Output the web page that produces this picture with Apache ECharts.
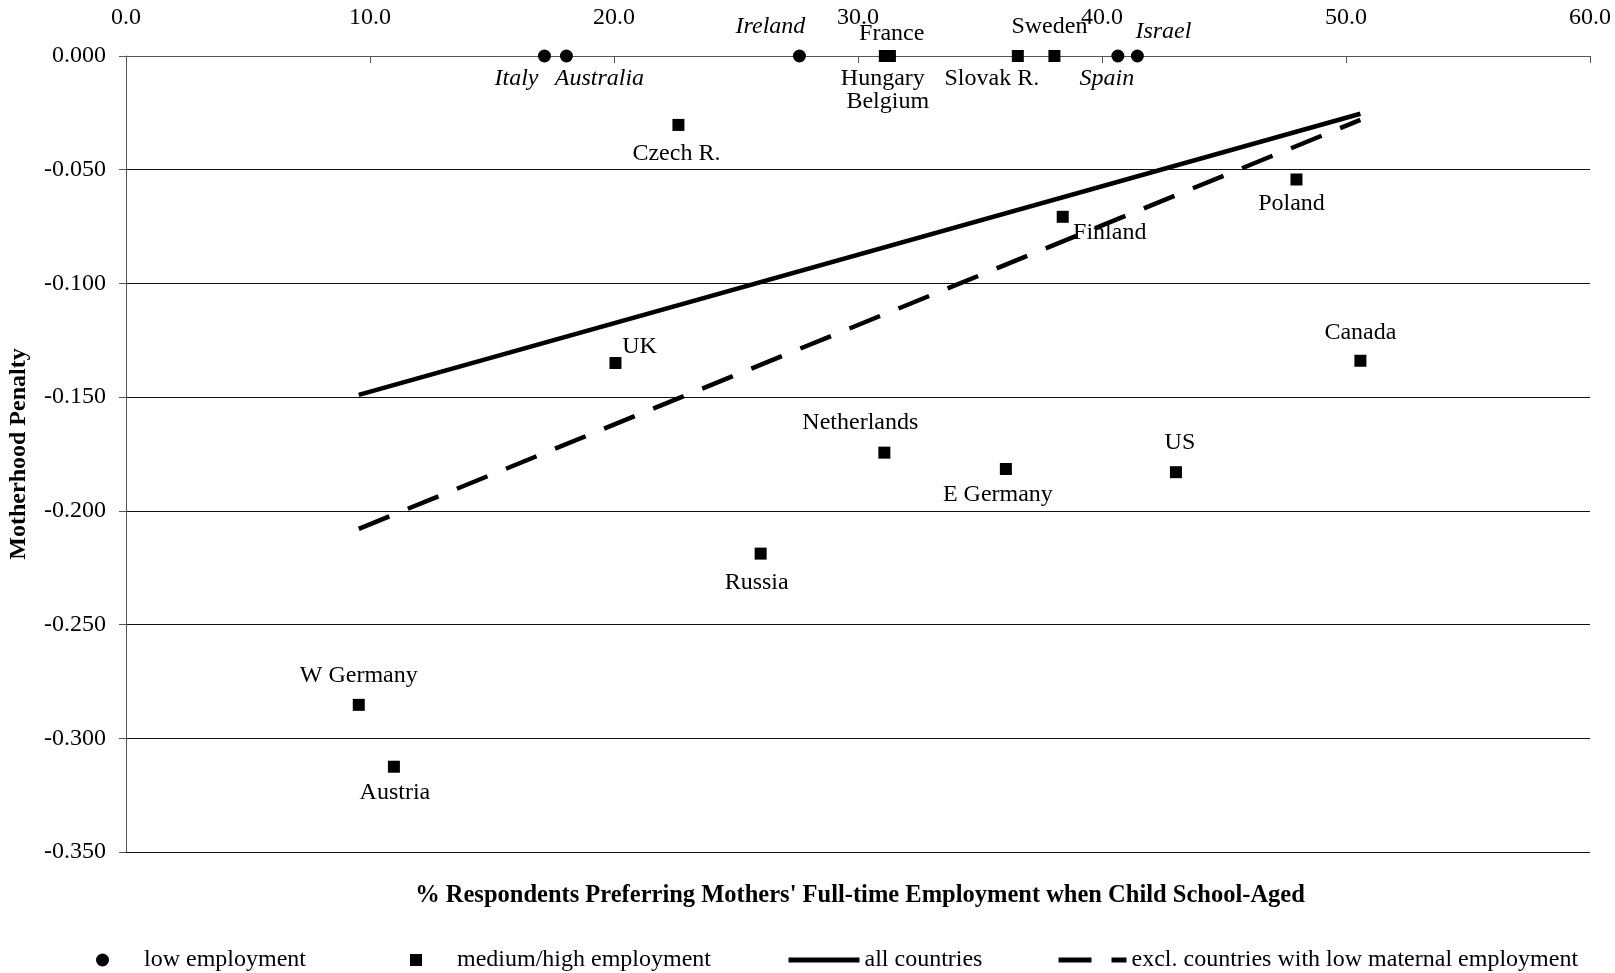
<!DOCTYPE html>
<html>
<head>
<meta charset="utf-8">
<script src="https://cdn.jsdelivr.net/npm/echarts@6/dist/echarts.min.js"></script>
<style>
html,body{margin:0;padding:0;background:#fff;}
#chart{width:1615px;height:973px;}
</style>
</head>
<body>
<div id="chart"></div>
<script>
// ---- data ----
const lowNames = ['Italy', 'Australia', 'Ireland', 'Spain', 'Israel'];
const lowX = [17.15, 18.05, 27.6, 40.65, 41.45];
const lowY = [0, 0, 0, 0, 0];

const medNames = ['Hungary', 'France', 'Belgium', 'Slovak R.', 'Sweden', 'Czech R.', 'Finland', 'Poland', 'Canada', 'UK', 'Netherlands', 'E Germany', 'US', 'Russia', 'W Germany', 'Austria'];
const medX = [31.1, 31.3, 31.3, 36.55, 38.05, 22.64, 38.39, 47.97, 50.59, 20.06, 31.08, 36.06, 43.03, 26.01, 9.54, 10.98];
const medY = [0, 0, 0, 0, 0, -0.0303, -0.0707, -0.0543, -0.134, -0.135, -0.1744, -0.1816, -0.183, -0.2188, -0.2853, -0.3125];

const allX = [9.54, 50.59];
const allY = [-0.149, -0.0254];
const exclX = [9.54, 50.59];
const exclY = [-0.2079, -0.0281];

const xTicks = [0, 10, 20, 30, 40, 50, 60];
const seriesNames = ['low employment', 'medium/high employment', 'all countries', 'excl. countries with low maternal employment'];
const xName = "% Respondents Preferring Mothers' Full-time Employment when Child School-Aged";
const yName = 'Motherhood Penalty';

// ---- label placement (style only) ----
const labelOffset = {
  'Italy': [-28, 23], 'Australia': [33, 23], 'Ireland': [-29, -29], 'Spain': [-11, 23], 'Israel': [26, -24],
  'Hungary': [-2, 23], 'France': [2, -22], 'Belgium': [-2, 46], 'Slovak R.': [-26, 23], 'Sweden': [-5, -29],
  'Czech R.': [-2, 29], 'Finland': [47, 16], 'Poland': [-5, 24], 'Canada': [0, -28], 'UK': [24, -16],
  'Netherlands': [-24, -30], 'E Germany': [-8, 26], 'US': [4, -29], 'Russia': [-4, 29], 'W Germany': [0, -29], 'Austria': [1, 26]
};

const FONT = 'Liberation Serif';

function pts(names, xs, ys, italic) {
  return names.map((n, i) => ({
    name: n,
    value: [xs[i], ys[i]],
    label: {
      show: true,
      formatter: n,
      position: 'inside',
      offset: labelOffset[n] || [0, 0],
      fontFamily: FONT,
      fontSize: 24,
      fontStyle: italic ? 'italic' : 'normal',
      color: '#000'
    }
  }));
}

const chart = echarts.init(document.getElementById('chart'), null, {renderer: 'canvas'});

const legendBase = {
  orient: 'horizontal',
  top: 948,
  padding: 0,
  textStyle: {fontFamily: FONT, fontSize: 24, color: '#000'},
  itemGap: 0,
  selectedMode: false
};

const option = {
  backgroundColor: '#fff',
  animation: false,
  textStyle: {fontFamily: FONT},
  title: {
    text: xName,
    left: 860,
    textAlign: 'center',
    top: 883,
    padding: 0,
    textStyle: {fontFamily: FONT, fontSize: 24.5, fontWeight: 'bold', color: '#000'}
  },
  legend: [
    Object.assign({}, legendBase, {left: 96, data: [{name: seriesNames[0], icon: 'circle'}], itemWidth: 13, itemHeight: 13,
      textStyle: {fontFamily: FONT, fontSize: 24, color: '#000', padding: [0, 0, 0, 30]}}),
    Object.assign({}, legendBase, {left: 410, data: [{name: seriesNames[1], icon: 'rect'}], itemWidth: 12, itemHeight: 12,
      textStyle: {fontFamily: FONT, fontSize: 24, color: '#000', padding: [0, 0, 0, 30]}}),
    Object.assign({}, legendBase, {left: 786, data: [{name: seriesNames[2]}], itemWidth: 71, itemHeight: 14,
      itemStyle: {opacity: 0}, lineStyle: {width: 5}}),
    Object.assign({}, legendBase, {left: 1056, data: [{name: seriesNames[3]}], itemWidth: 68, itemHeight: 14,
      itemStyle: {opacity: 0}, lineStyle: {width: 5}})
  ],
  grid: {left: 126, right: 25, top: 56, bottom: 121, containLabel: false, outerBoundsMode: 'none'},
  xAxis: {
    type: 'value',
    position: 'top',
    min: xTicks[0],
    max: xTicks[xTicks.length - 1],
    interval: 10,
    axisLine: {show: true, onZero: false, lineStyle: {color: '#555', width: 1}},
    axisTick: {show: true, inside: true, length: 7, lineStyle: {color: '#555'}},
    axisLabel: {formatter: v => v.toFixed(1), fontFamily: FONT, fontSize: 24, color: '#000', margin: 26},
    splitLine: {show: false}
  },
  yAxis: {
    type: 'value',
    min: -0.35,
    max: 0,
    interval: 0.05,
    name: yName,
    nameLocation: 'middle',
    nameRotate: 90,
    nameGap: 95,
    nameTextStyle: {fontFamily: FONT, fontSize: 24, fontWeight: 'bold', color: '#000'},
    axisLine: {show: true, onZero: false, lineStyle: {color: '#555', width: 1}},
    axisTick: {show: true, inside: false, length: 7, lineStyle: {color: '#555'}},
    axisLabel: {formatter: v => v.toFixed(3), fontFamily: FONT, fontSize: 24, color: '#000', margin: 20},
    splitLine: {show: true, lineStyle: {color: '#111', width: 1}}
  },
  series: [
    {
      name: seriesNames[2],
      type: 'line',
      data: allX.map((x, i) => [x, allY[i]]),
      symbol: 'none',
      lineStyle: {color: '#000', width: 4.5, type: 'solid'},
      itemStyle: {color: '#000'},
      z: 2
    },
    {
      name: seriesNames[3],
      type: 'line',
      data: exclX.map((x, i) => [x, exclY[i]]),
      symbol: 'none',
      lineStyle: {color: '#000', width: 4.5, type: [33, 20]},
      itemStyle: {color: '#000'},
      z: 2
    },
    {
      name: seriesNames[0],
      type: 'scatter',
      symbol: 'circle',
      symbolSize: 13,
      itemStyle: {color: '#000', opacity: 1},
      data: pts(lowNames, lowX, lowY, true),
      z: 3
    },
    {
      name: seriesNames[1],
      type: 'scatter',
      symbol: 'rect',
      symbolSize: 12,
      itemStyle: {color: '#000', opacity: 1},
      data: pts(medNames, medX, medY, false),
      z: 3
    }
  ]
};

chart.setOption(option);
</script>
</body>
</html>
